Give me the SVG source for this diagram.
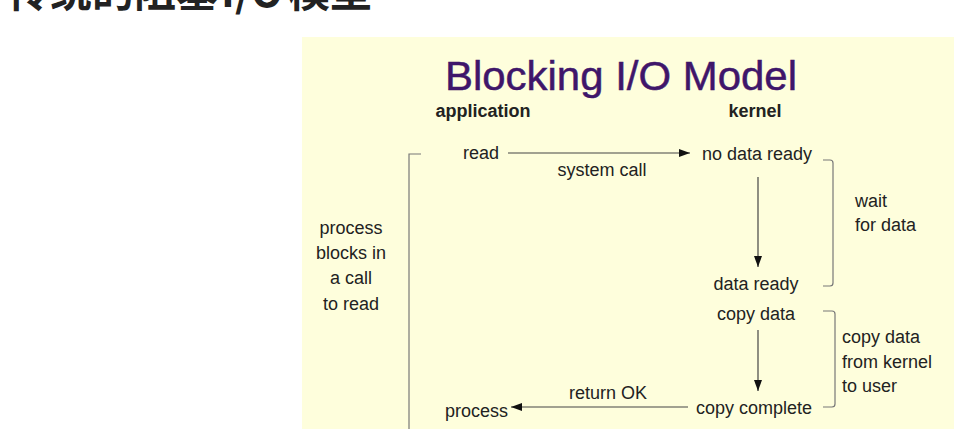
<svg xmlns="http://www.w3.org/2000/svg" width="959" height="429" viewBox="0 0 959 429">
<defs>
<style>
.t{font-family:"Liberation Sans",Arial,sans-serif;font-size:18px;fill:#222}
.b{font-weight:bold}
.m{text-anchor:middle}
.ln{stroke:#444;stroke-width:1.2;fill:none}
.br{stroke:#777;stroke-width:1.2;fill:none}
</style>
<marker id="ah" viewBox="0 0 11 10" refX="11" refY="5" markerWidth="11" markerHeight="10" markerUnits="userSpaceOnUse" orient="auto">
<path d="M0,1 L11,5 L0,9 Z" fill="#111"/>
</marker>
</defs>
<rect width="959" height="429" fill="#fff"/>
<text x="8" y="7" style="font-family:'Noto Sans CJK SC',sans-serif;font-size:42px;font-weight:bold;fill:#222">传统的阻塞<tspan dx="3">I/O</tspan><tspan dx="5">模型</tspan></text>
<rect x="302" y="37" width="652" height="392" fill="#FEFEDC"/>
<g id="title"><text x="445" y="90" textLength="352" lengthAdjust="spacingAndGlyphs" style="font-family:'Liberation Sans',Arial,sans-serif;font-size:41px;fill:#3f166a;stroke:#3f166a;stroke-width:0.5">Blocking I/O Model</text></g>
<g id="application"><text class="t b m" x="483" y="117">application</text></g>
<g id="kernel"><text class="t b m" x="755" y="117">kernel</text></g>
<g id="read"><text class="t" x="463" y="159">read</text></g>
<g id="no-data-ready"><text class="t m" x="757" y="160">no data ready</text></g>
<g id="system-call"><text class="t m" x="602" y="176">system call</text></g>
<g id="wait"><text class="t" x="855" y="207">wait</text><text class="t" x="855" y="231">for data</text></g>
<g id="blocks"><text class="t m" x="351" y="234">process</text><text class="t m" x="351" y="259">blocks in</text><text class="t m" x="351" y="284">a call</text><text class="t m" x="351" y="310">to read</text></g>
<g id="data-ready"><text class="t m" x="756" y="290">data ready</text></g>
<g id="copy-data"><text class="t m" x="756" y="320">copy data</text></g>
<g id="copy-label"><text class="t" x="842" y="343">copy data</text><text class="t" x="842" y="368">from kernel</text><text class="t" x="842" y="392">to user</text></g>
<g id="return-ok"><text class="t m" x="608" y="399">return OK</text></g>
<g id="copy-complete"><text class="t m" x="754" y="414">copy complete</text></g>
<g id="process"><text class="t" x="445" y="417">process</text></g>
<g id="brackets">
<path class="br" d="M421,154 H409 V429"/>
<path class="br" d="M823,160 H830 Q833,160 833,163 V283 Q833,286 830,286 H823"/>
<path class="br" d="M823,311 H832 Q835,311 835,314 V404 Q835,407 832,407 H823"/>
</g>
<g id="connectors">
<line class="ln" x1="508" y1="153" x2="690" y2="153" marker-end="url(#ah)"/>
<line class="ln" x1="758" y1="177" x2="758" y2="267" marker-end="url(#ah)"/>
<line class="ln" x1="758" y1="330" x2="758" y2="391" marker-end="url(#ah)"/>
<line class="ln" x1="688" y1="407" x2="511" y2="407" marker-end="url(#ah)"/>
</g>
</svg>
